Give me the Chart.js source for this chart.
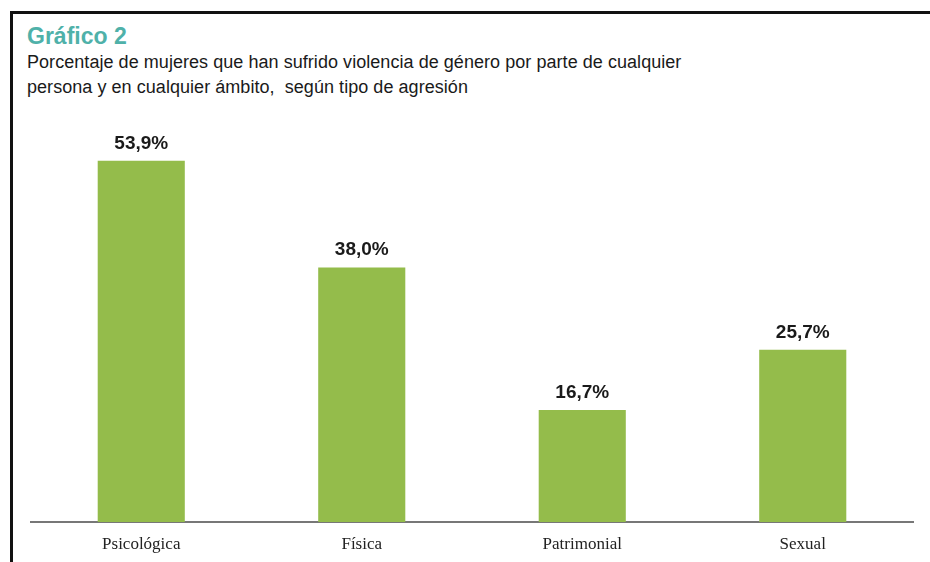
<!DOCTYPE html>
<html>
<head>
<meta charset="utf-8">
<script src="https://cdn.jsdelivr.net/npm/chart.js@4"></script>
<style>
  html, body { margin: 0; padding: 0; background: #fff; }
  #wrap { position: relative; width: 930px; height: 562px; overflow: hidden; }
  #frame { position: absolute; left: 10px; top: 11px; width: 930px; height: 600px;
           border-left: 3px solid #111; border-top: 3px solid #111; }
  #title { position: absolute; left: 27px; top: 23px; font: bold 23px "Liberation Sans", Arial, sans-serif;
           color: #4fb1a9; }
  #subtitle { position: absolute; left: 27px; top: 50px; font: 18px "Liberation Sans", sans-serif;
              color: #1a1a1a; line-height: 25px; letter-spacing: 0.05px; }
  canvas { position: absolute; left: 0; top: 0; }
</style>
</head>
<body>
<div id="wrap">
  <div id="frame"></div>
  <div id="title">Gráfico 2</div>
  <div id="subtitle">Porcentaje de mujeres que han sufrido violencia de género por parte de cualquier<br>persona y en cualquier ámbito,&nbsp; según tipo de agresión</div>
  <canvas id="chart" width="930" height="562"></canvas>
</div>
<script>
// Chart data
const categories = ['Psicológica', 'Física', 'Patrimonial', 'Sexual'];
const values = [53.9, 38.0, 16.7, 25.7];

// Draws the "53,9%" labels above each bar
const valueLabels = {
  id: 'valueLabels',
  afterDatasetsDraw(chart) {
    const ctx = chart.ctx;
    const meta = chart.getDatasetMeta(0);
    ctx.save();
    ctx.font = 'bold 19px "Liberation Sans", Arial, sans-serif';
    ctx.fillStyle = '#1a1a1a';
    ctx.textAlign = 'center';
    ctx.textBaseline = 'bottom';
    meta.data.forEach((bar, i) => {
      const txt = values[i].toFixed(1).replace('.', ',') + '%';
      ctx.fillText(txt, bar.x, bar.y - 8);
    });
    ctx.restore();
  }
};

const ctx = document.getElementById('chart').getContext('2d');
new Chart(ctx, {
  type: 'bar',
  data: {
    labels: categories,
    datasets: [{
      data: values,
      backgroundColor: '#94bc4b',
      barPercentage: 0.395,
      categoryPercentage: 1
    }]
  },
  options: {
    responsive: false,
    animation: false,
    layout: { padding: { left: 31, right: 17, top: 120, bottom: 0 } },
    plugins: {
      legend: { display: false },
      tooltip: { enabled: false }
    },
    scales: {
      x: {
        grid: { display: false },
        border: { color: '#777', width: 2 },
        afterFit(scale) { scale.height = 40; },
        ticks: {
          color: '#222',
          padding: 4,
          font: { family: '"Liberation Serif", "DejaVu Serif", serif', size: 17 }
        }
      },
      y: {
        display: false,
        min: 0,
        max: 60
      }
    }
  },
  plugins: [valueLabels]
});
</script>
</body>
</html>
